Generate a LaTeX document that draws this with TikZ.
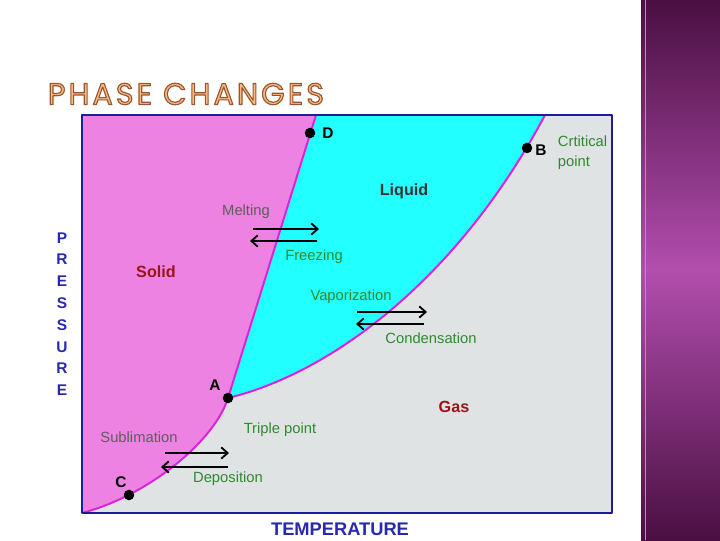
\documentclass[tikz,border=0pt]{standalone}
\usepackage{fontspec}
\setmainfont{Liberation Sans}
\newfontfamily\titlefont[LetterSpace=10]{Poppins}
\usepackage{tikz}
\usetikzlibrary{arrows.meta, calc}
\definecolor{solidpink}{HTML}{EE82E2}
\definecolor{liqcyan}{HTML}{22FFFF}
\definecolor{gasgray}{HTML}{DFE3E4}
\definecolor{curvemag}{HTML}{DD22DD}
\definecolor{framblue}{HTML}{1C1C9C}
\definecolor{axisblue}{HTML}{2828B0}
\definecolor{taggreen}{HTML}{2F8A2F}
\definecolor{taggray}{HTML}{5A605A}
\definecolor{phasered}{HTML}{9A1515}
\definecolor{titlefill}{HTML}{F9BC80}
\definecolor{sidedark}{HTML}{4A0F42}
\definecolor{sidelight}{HTML}{B24EAE}
% outlined letters (fill and stroke)
\newcommand\outlined[1]{\special{pdf:literal direct 0.604 0.333 0.188 RG 0.8 w 2 Tr}#1\special{pdf:literal direct 0 Tr}}

\begin{document}
\begin{tikzpicture}[x=0.025cm, y=0.025cm, line join=round,
    phase/.style={draw=curvemag, line width=1.4pt},
    dot/.style={circle, fill=black, inner sep=0pt, minimum size=7.5pt},
    ptlab/.style={font=\bfseries\fontsize{11}{13}\selectfont},
    tag/.style={font=\fontsize{10.5}{14}\selectfont, text=taggreen},
    graytag/.style={tag, text=taggray},
    region/.style={font=\bfseries\fontsize{11.5}{14}\selectfont},
    axislab/.style={font=\bfseries\fontsize{11}{15.5}\selectfont, text=axisblue},
    trans/.style={line width=1.3pt, -{Straight Barb[length=4.5pt, width=8pt]}},
    titletxt/.style={font=\titlefont\fontsize{21.5}{26}\selectfont}]
        \useasboundingbox (0,0) rectangle (720,540);
        % side band
        \shade[top color=sidedark, bottom color=sidedark, middle color=sidelight]
            (641,0) rectangle (720,540);
        \draw[sidelight!70!white, line width=0.6pt] (645,0) -- (645,540);
        % title
        \node[titletxt, text=titlefill] (title) at (186,446) {\outlined{PHASE CHANGES}};
        % corners of the chart and the phase curves
        \coordinate (bl) at (82,27);
        \coordinate (tl) at (82,425);
        \coordinate (tr) at (612,425);
        \coordinate (topsl) at (316,425);
        \coordinate (toplg) at (545,425);
        \coordinate (trip) at (228,142);
        \coordinate (crit) at (527,392);
        \coordinate (dpt) at (310,407);
        \coordinate (cpt) at (129,45);
        \fill[gasgray] (bl) rectangle (tr);
        \fill[solidpink] (tl) -- (topsl) -- (trip) .. controls (215,100) and (150,45) .. (bl) -- cycle;
        \fill[liqcyan] (trip) -- (topsl) -- (toplg) .. controls (460,265) and (335,168) .. (trip) -- cycle;
        \draw[phase] (bl) .. controls (150,45) and (215,100) .. (trip);
        \draw[phase] (trip) -- (topsl);
        \draw[phase] (trip) .. controls (335,168) and (460,265) .. (toplg);
        \draw[framblue, line width=1.7pt] (bl) rectangle (tr);
        % points
        \node[dot] (nA) at (trip) {};
        \node[dot] (nB) at (crit) {};
        \node[dot] (nC) at (cpt) {};
        \node[dot] (nD) at (dpt) {};
        \node[ptlab] (labA) at (215,155) {A};
        \node[ptlab] (labB) at (541,390) {B};
        \node[ptlab] (labC) at (121,58) {C};
        \node[ptlab] (labD) at (328,407) {D};
        \node[tag, align=left, anchor=west] (crtxt) at (553,387) {Crtitical\\point};
        % phases
        \node[region, text=phasered] (solid) at (156,268) {Solid};
        \node[region, text=black!80] (liquid) at (404,349) {Liquid};
        \node[region, text=phasered] (gas) at (454,133) {Gas};
        % transitions
        \node[graytag] (melt) at (246,328) {Melting};
        \node[tag] (freeze) at (314,283) {Freezing};
        \node[tag] (vapor) at (351,243) {Vaporization};
        \node[tag] (cond) at (431,202) {Condensation};
        \node[graytag] (subl) at (139,103) {Sublimation};
        \node[tag] (tripl) at (280,110) {Triple point};
        \node[tag] (depo) at (228,61) {Deposition};
        \coordinate (m1) at (253,311); \coordinate (m2) at (319,311);
        \coordinate (f1) at (317,299); \coordinate (f2) at (250,299);
        \coordinate (v1) at (357,228); \coordinate (v2) at (427,228);
        \coordinate (c1) at (424,216); \coordinate (c2) at (356,216);
        \coordinate (s1) at (165,87); \coordinate (s2) at (229,87);
        \coordinate (d1) at (228,73); \coordinate (d2) at (161,73);
        \draw[trans] (m1) -- (m2);
        \draw[trans] (f1) -- (f2);
        \draw[trans] (v1) -- (v2);
        \draw[trans] (c1) -- (c2);
        \draw[trans] (s1) -- (s2);
        \draw[trans] (d1) -- (d2);
        % axes
        \node[axislab, align=center] (press) at (62,226) {P\\R\\E\\S\\S\\U\\R\\E};
        \node[axislab, font=\bfseries\fontsize{13}{15}\selectfont] (temp) at (340,11) {TEMPERATURE};
    \end{tikzpicture}
\end{document}
